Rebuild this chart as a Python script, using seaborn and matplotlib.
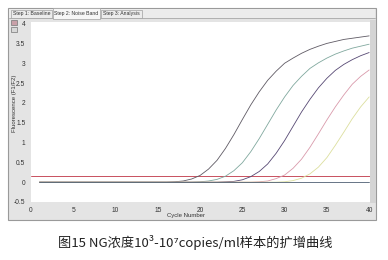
import numpy as np
import pandas as pd
import matplotlib
matplotlib.use("Agg")
import matplotlib.pyplot as plt
from matplotlib.patches import Rectangle
import seaborn as sns

# ---------------- data ----------------
cycles = list(range(1, 41))
s1 = [0.0]*16 + [0.01, 0.03, 0.08, 0.17, 0.33, 0.55, 0.85, 1.20, 1.58, 1.95, 2.28, 2.57,
                 2.80, 3.00, 3.13, 3.25, 3.35, 3.43, 3.50, 3.55, 3.60, 3.63, 3.66, 3.69]
s2 = [0.0]*19 + [0.01, 0.03, 0.07, 0.15, 0.29, 0.49, 0.77, 1.10, 1.46, 1.82, 2.15, 2.44,
                 2.67, 2.87, 3.01, 3.13, 3.23, 3.31, 3.38, 3.43, 3.48]
s3 = [0.0]*22 + [0.01, 0.02, 0.06, 0.14, 0.27, 0.46, 0.73, 1.05, 1.41, 1.77, 2.09, 2.38,
                 2.62, 2.82, 2.97, 3.09, 3.19, 3.27]
s4 = [0.0]*26 + [0.01, 0.03, 0.09, 0.18, 0.35, 0.58, 0.88, 1.22, 1.57, 1.90, 2.20, 2.47,
                 2.67, 2.83]
s5 = [0.0]*29 + [0.01, 0.04, 0.10, 0.21, 0.38, 0.62, 0.93, 1.26, 1.60, 1.90, 2.15]
ntc = [0.0]*40
samples = ["1e7", "1e6", "1e5", "1e4", "1e3", "NTC"]
threshold = 0.16
x_ticks = [0, 5, 10, 15, 20, 25, 30, 35, 40]
y_ticks = [-0.5, 0, 0.5, 1, 1.5, 2, 2.5, 3, 3.5, 4]
y_ticklabels = ["-0.5", "0", "0.5", "1", "1.5", "2", "2.5", "3", "3.5", "4"]
tabs = ["Step 1: Baseline", "Step 2: Noise Band", "Step 3: Analysis"]
caption = "图15 NG浓度10³-10⁷copies/ml样本的扩增曲线"

colors = ["#5f5a64", "#80a89e", "#564873", "#d99aab", "#dcdf9e", "#4e5e72"]

df = pd.DataFrame({
    "cycle": cycles * 6,
    "fluor": s1 + s2 + s3 + s4 + s5 + ntc,
    "sample": sum([[s] * 40 for s in samples], []),
})

sns.set_style("white")
plt.rcParams['font.family'] = ['Liberation Sans', 'DejaVu Sans']

W, H = 388, 260
fig = plt.figure(figsize=(W / 100, H / 100), dpi=100)
fig.patch.set_facecolor("white")

def fx(px):
    return px / W

def fy(py):
    return 1 - py / H

# window frame
fig.patches.append(Rectangle((fx(8), fy(220)), fx(376) - fx(8), fy(8) - fy(220),
                             transform=fig.transFigure, facecolor="#e4e4e4",
                             edgecolor="#9a9a9a", linewidth=0.8, zorder=-3))
# tab strip
fig.patches.append(Rectangle((fx(9), fy(18)), fx(375) - fx(9), fy(9) - fy(18),
                             transform=fig.transFigure, facecolor="#ececec",
                             edgecolor="none", zorder=-2))
fig.lines.append(plt.Line2D([fx(9), fx(375)], [fy(18), fy(18)], transform=fig.transFigure,
                            color="#a8a8a8", linewidth=0.6, zorder=-1))
tab_x = [(11, 52), (53, 100), (101, 142)]
for (a, b), t, active in zip(tab_x, tabs, [False, True, False]):
    top = 8 if active else 10
    bot = 19 if active else 18
    fig.patches.append(Rectangle((fx(a), fy(bot)), fx(b) - fx(a), fy(top) - fy(bot),
                                 transform=fig.transFigure,
                                 facecolor="#f6f6f6" if active else "#ececec",
                                 edgecolor="#a0a0a0", linewidth=0.5, zorder=-1))
    fig.text(fx((a + b) / 2), fy(13.5), t, fontsize=3.7, color="#333333",
             ha="center", va="center", zorder=2)

# small toolbar icons
for py, fc in [(20, "#c9a0a8"), (27, "#d8d8d8")]:
    fig.patches.append(Rectangle((fx(11), fy(py + 5)), fx(6), fy(0) - fy(5),
                                 transform=fig.transFigure, facecolor=fc,
                                 edgecolor="#777777", linewidth=0.5, zorder=-1))

# scrollbar-like strip on the right
fig.patches.append(Rectangle((fx(370), fy(203)), fx(6), fy(20) - fy(203),
                             transform=fig.transFigure, facecolor="#d4d4d4",
                             edgecolor="none", zorder=-1))

ax = fig.add_axes([fx(31), fy(202), fx(370) - fx(31), fy(22) - fy(202)])
ax.set_zorder(5)
ax.set_facecolor("white")

sns.lineplot(data=df, x="cycle", y="fluor", hue="sample", palette=colors,
             linewidth=0.6, legend=False, ax=ax)
ax.axhline(threshold, color="#c8505e", linewidth=0.7, zorder=1)

ax.set_xlim(0, 40.1)
ax.set_ylim(-0.5, 4.04)
ax.set_xticks(x_ticks)
ax.set_xticklabels([str(v) for v in x_ticks])
ax.set_yticks(y_ticks)
ax.set_yticklabels(y_ticklabels)
ax.set_xticks([v + 2.5 for v in x_ticks[:-1]], minor=True)
ax.set_yticks([v + 0.25 for v in y_ticks[:-1]], minor=True)
ax.tick_params(axis="both", which="major", labelsize=4.8, colors="#333333",
               length=2.5, width=0.5, pad=1.5, direction="out")
ax.tick_params(axis="both", which="minor", length=1.2, width=0.5, colors="#777777",
               direction="out")
ax.tick_params(axis="x", which="major", pad=1)
for side in ["top", "right", "left", "bottom"]:
    ax.spines[side].set_visible(False)
ax.set_xlabel("")
ax.set_ylabel("")

fig.text(fx(14.5), fy(103), "Fluorescence (F1/F2)", rotation=90, fontsize=4.3,
         color="#333333", ha="center", va="center")
fig.text(fx(186), fy(215.5), "Cycle Number", fontsize=4.3, color="#333333",
         ha="center", va="center")

fig.text(fx(195), fy(243), caption, fontsize=9.5, color="#222222",
         ha="center", va="center", family=["Noto Sans CJK SC", "DejaVu Sans"])

fig.savefig("out.png", dpi=100, facecolor="white")
